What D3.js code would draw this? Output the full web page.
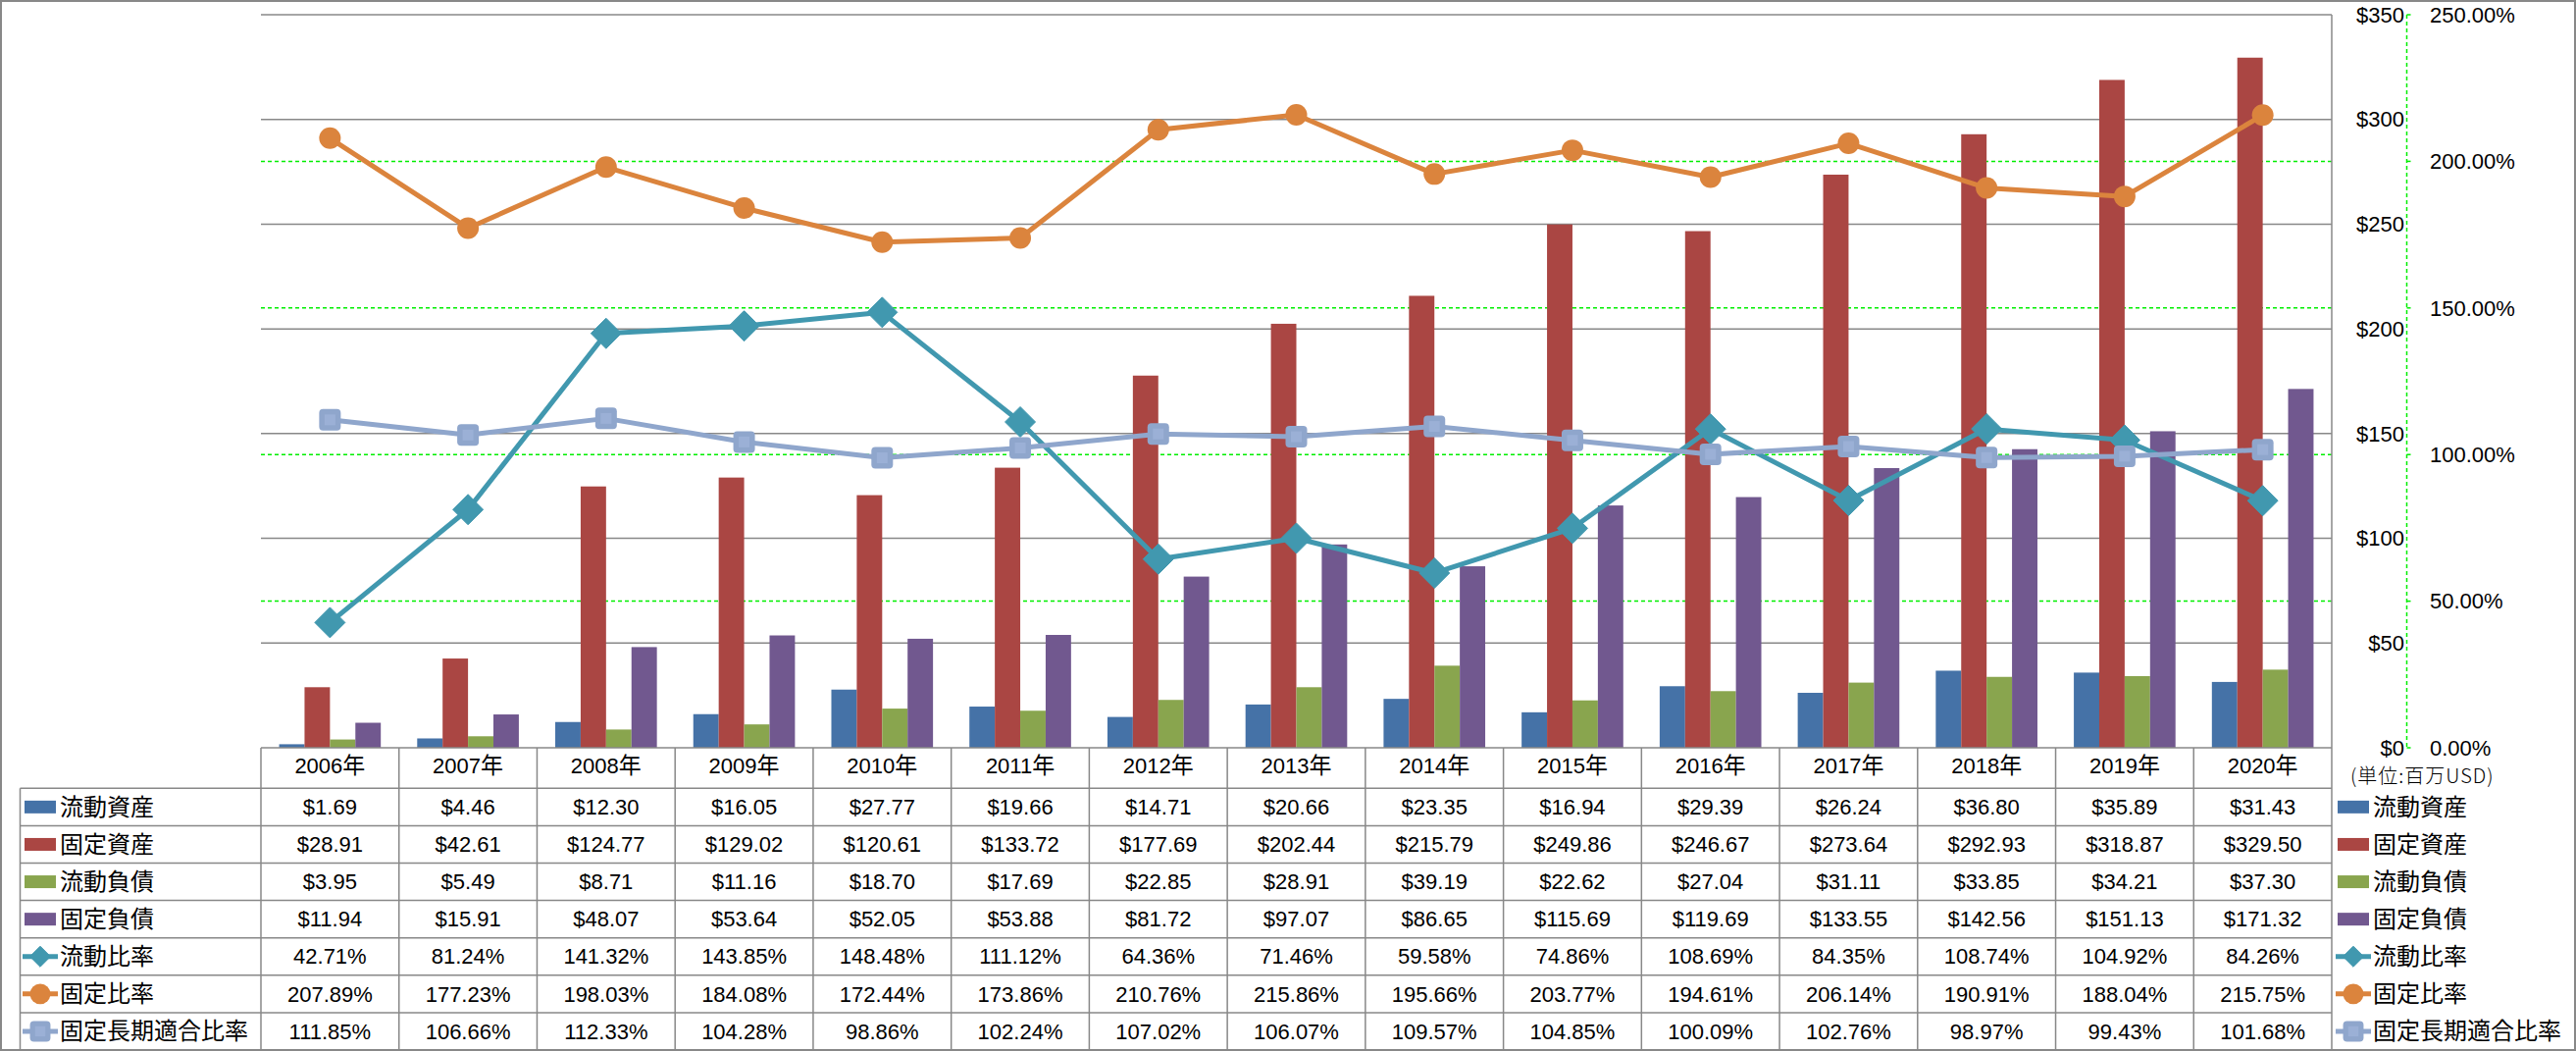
<!DOCTYPE html>
<html>
<head>
<meta charset="utf-8">
<script src="https://cdn.jsdelivr.net/npm/d3@7"></script>
<style>
  html, body { margin: 0; padding: 0; background: #fff; }
  svg { display: block; }
  .num { font-family: "Liberation Sans", Arial, sans-serif; font-size: 22px; fill: #000; }
  .cjk { font-family: "Noto Sans CJK JP", "Noto Sans CJK SC", sans-serif; font-size: 24px; fill: #000; }
</style>
</head>
<body>
<script>
// ---------------- data ----------------
const years = ["2006", "2007", "2008", "2009", "2010", "2011", "2012", "2013", "2014", "2015", "2016", "2017", "2018", "2019", "2020"];
const currentAssets = [1.69, 4.46, 12.30, 16.05, 27.77, 19.66, 14.71, 20.66, 23.35, 16.94, 29.39, 26.24, 36.80, 35.89, 31.43];
const fixedAssets = [28.91, 42.61, 124.77, 129.02, 120.61, 133.72, 177.69, 202.44, 215.79, 249.86, 246.67, 273.64, 292.93, 318.87, 329.50];
const currentLiabilities = [3.95, 5.49, 8.71, 11.16, 18.70, 17.69, 22.85, 28.91, 39.19, 22.62, 27.04, 31.11, 33.85, 34.21, 37.30];
const fixedLiabilities = [11.94, 15.91, 48.07, 53.64, 52.05, 53.88, 81.72, 97.07, 86.65, 115.69, 119.69, 133.55, 142.56, 151.13, 171.32];
const currentRatio = [42.71, 81.24, 141.32, 143.85, 148.48, 111.12, 64.36, 71.46, 59.58, 74.86, 108.69, 84.35, 108.74, 104.92, 84.26];
const fixedRatio = [207.89, 177.23, 198.03, 184.08, 172.44, 173.86, 210.76, 215.86, 195.66, 203.77, 194.61, 206.14, 190.91, 188.04, 215.75];
const fixedLongTermRatio = [111.85, 106.66, 112.33, 104.28, 98.86, 102.24, 107.02, 106.07, 109.57, 104.85, 100.09, 102.76, 98.97, 99.43, 101.68];
const leftTicks = [0, 50, 100, 150, 200, 250, 300, 350];
const rightTicks = [0, 0.5, 1.0, 1.5, 2.0, 2.5];
const unitLabel = "(単位:百万USD)";

const barSeries = [
  { name: "流動資産", values: currentAssets, color: "#4572A7" },
  { name: "固定資産", values: fixedAssets, color: "#AA4643" },
  { name: "流動負債", values: currentLiabilities, color: "#89A54E" },
  { name: "固定負債", values: fixedLiabilities, color: "#71588F" }
];
const lineSeries = [
  { name: "流動比率", values: currentRatio, color: "#4198AF", marker: "diamond" },
  { name: "固定比率", values: fixedRatio, color: "#DB843D", marker: "circle" },
  { name: "固定長期適合比率", values: fixedLongTermRatio, color: "#8FA6CC", marker: "square" }
];

// ---------------- layout ----------------
const W = 2626, H = 1071;
const plotL = 266, plotR = 2377, plotT = 15, plotB = 762;
const headerB = 803.3, tableB = 1070, tableL = 20.5;
const rowH = (tableB - headerB) / 7;
const gridColor = "#888888";

const svg = d3.select("body").append("svg").attr("width", W).attr("height", H);

const x = d3.scaleBand().domain(years).range([plotL, plotR]).paddingInner(0).paddingOuter(0);
const xs = d3.scaleBand().domain(barSeries.map(d => d.name)).range([0, x.bandwidth()]).paddingInner(0).paddingOuter(0.716);
const yL = d3.scaleLinear().domain([0, 350]).range([plotB, plotT]);
const yR = d3.scaleLinear().domain([0, 2.5]).range([plotB, plotT]);

// outer border
svg.append("rect").attr("x", 1).attr("y", 1).attr("width", W - 2).attr("height", H - 2)
  .attr("fill", "none").attr("stroke", gridColor).attr("stroke-width", 2);

// gray gridlines (primary axis)
svg.append("g").selectAll("line").data(leftTicks.filter(d => d > 0)).join("line")
  .attr("x1", plotL).attr("x2", plotR)
  .attr("y1", d => yL(d)).attr("y2", d => yL(d))
  .attr("stroke", gridColor).attr("stroke-width", 1.5);

// green dashed gridlines (secondary axis)
svg.append("g").selectAll("line").data(rightTicks.filter(d => d > 0 && d < 2.5)).join("line")
  .attr("x1", plotL).attr("x2", plotR)
  .attr("y1", d => yR(d)).attr("y2", d => yR(d))
  .attr("stroke", "#00EE00").attr("stroke-width", 1.5).attr("stroke-dasharray", "4,3");

// plot right border
svg.append("line").attr("x1", plotR).attr("x2", plotR).attr("y1", plotT).attr("y2", tableB)
  .attr("stroke", gridColor).attr("stroke-width", 1.5);

// bars
const barG = svg.append("g");
barSeries.forEach(s => {
  barG.append("g").selectAll("rect").data(s.values).join("rect")
    .attr("x", (d, i) => x(years[i]) + xs(s.name))
    .attr("width", xs.bandwidth())
    .attr("y", d => yL(d))
    .attr("height", d => yL(0) - yL(d))
    .attr("fill", s.color);
});

// markers
function drawMarker(g, type, cx, cy, color, scale) {
  if (type === "diamond") {
    const r = 15.5 * scale;
    g.append("path").attr("d", `M${cx},${cy - r}L${cx + r},${cy}L${cx},${cy + r}L${cx - r},${cy}Z`)
      .attr("fill", color).attr("stroke", color).attr("stroke-width", 1).attr("stroke-linejoin", "round");
  } else if (type === "circle") {
    g.append("circle").attr("cx", cx).attr("cy", cy).attr("r", 11 * scale).attr("fill", color);
  } else {
    const s = 22 * scale;
    g.append("rect").attr("x", cx - s / 2).attr("y", cy - s / 2).attr("width", s).attr("height", s)
      .attr("rx", 4).attr("fill", color);
    g.append("rect").attr("x", cx - s / 4).attr("y", cy - s / 4).attr("width", s / 2).attr("height", s / 2)
      .attr("fill", "#9BB0D6");
  }
}

// lines
const lineGen = d3.line().x((d, i) => x(years[i]) + x.bandwidth() / 2).y(d => yR(d / 100));
lineSeries.forEach(s => {
  const g = svg.append("g");
  g.append("path").datum(s.values).attr("d", lineGen)
    .attr("fill", "none").attr("stroke", s.color).attr("stroke-width", 5).attr("stroke-linejoin", "round");
  s.values.forEach((v, i) => drawMarker(g, s.marker, x(years[i]) + x.bandwidth() / 2, yR(v / 100), s.color, 1));
});

// primary axis labels (right side, right aligned)
svg.append("g").selectAll("text").data(leftTicks).join("text")
  .attr("class", "num").attr("x", 2451).attr("y", d => yL(d)).attr("dy", "0.35em")
  .attr("text-anchor", "end").text(d => "$" + d);

// secondary axis line + ticks
const axX = 2453.5;
svg.append("line").attr("x1", axX).attr("x2", axX).attr("y1", plotT).attr("y2", plotB)
  .attr("stroke", "#00EE00").attr("stroke-width", 1.5).attr("stroke-dasharray", "4,3");
svg.append("g").selectAll("line").data(rightTicks).join("line")
  .attr("x1", axX).attr("x2", axX + 4).attr("y1", d => yR(d)).attr("y2", d => yR(d))
  .attr("stroke", "#00EE00").attr("stroke-width", 1.5);
svg.append("g").selectAll("text").data(rightTicks).join("text")
  .attr("class", "num").attr("x", 2477).attr("y", d => yR(d)).attr("dy", "0.35em")
  .text(d => d3.format(".2%")(d));

// unit label
svg.append("text").attr("x", 2396).attr("y", 791).attr("dy", "0.35em")
  .style("font-family", "'Noto Sans CJK JP', sans-serif").style("font-size", "20px").style("font-weight", 300)
  .style("letter-spacing", "1px")
  .text(unitLabel);

// ---------------- data table ----------------
const tg = svg.append("g");
tg.append("line").attr("x1", plotL).attr("x2", plotR).attr("y1", plotB).attr("y2", plotB)
  .attr("stroke", gridColor).attr("stroke-width", 1.5);
d3.range(8).forEach(r => {
  tg.append("line").attr("x1", tableL).attr("x2", plotR)
    .attr("y1", headerB + r * rowH).attr("y2", headerB + r * rowH)
    .attr("stroke", gridColor).attr("stroke-width", 1.5);
});
tg.append("line").attr("x1", tableL).attr("x2", tableL).attr("y1", headerB).attr("y2", tableB)
  .attr("stroke", gridColor).attr("stroke-width", 1.5);
years.forEach(yv => {
  tg.append("line").attr("x1", x(yv)).attr("x2", x(yv)).attr("y1", plotB).attr("y2", tableB)
    .attr("stroke", gridColor).attr("stroke-width", 1.5);
});

// header labels
years.forEach(yv => {
  const t = tg.append("text").attr("x", x(yv) + x.bandwidth() / 2).attr("y", (plotB + headerB) / 2)
    .attr("dy", "0.35em").attr("text-anchor", "middle");
  t.append("tspan").attr("class", "num").text(yv);
  t.append("tspan").attr("class", "cjk").style("font-size", "23px").text("年");
});

const rows = [
  ...barSeries.map(s => ({ ...s, kind: "bar", fmt: v => "$" + d3.format(".2f")(v) })),
  ...lineSeries.map(s => ({ ...s, kind: "line", fmt: v => d3.format(".2f")(v) + "%" }))
];

function legendKey(g, s, cx, cy) {
  if (s.kind === "bar") {
    g.append("rect").attr("x", cx - 16).attr("y", cy - 6.5).attr("width", 32).attr("height", 13).attr("fill", s.color);
  } else {
    g.append("line").attr("x1", cx - 18).attr("x2", cx + 18).attr("y1", cy).attr("y2", cy)
      .attr("stroke", s.color).attr("stroke-width", 5);
    drawMarker(g, s.marker, cx, cy, s.color, s.marker === "diamond" ? 0.68 : 0.95);
  }
}

rows.forEach((s, r) => {
  const cy = headerB + r * rowH + rowH / 2;
  legendKey(tg, s, 41, cy);
  tg.append("text").attr("class", "cjk").attr("x", 61).attr("y", cy).attr("dy", "0.35em").text(s.name);
  s.values.forEach((v, i) => {
    tg.append("text").attr("class", "num").attr("x", x(years[i]) + x.bandwidth() / 2).attr("y", cy)
      .attr("dy", "0.35em").attr("text-anchor", "middle").text(s.fmt(v));
  });
  legendKey(tg, s, 2399, cy);
  tg.append("text").attr("class", "cjk").attr("x", 2419).attr("y", cy).attr("dy", "0.35em").text(s.name);
});
</script>
</body>
</html>
